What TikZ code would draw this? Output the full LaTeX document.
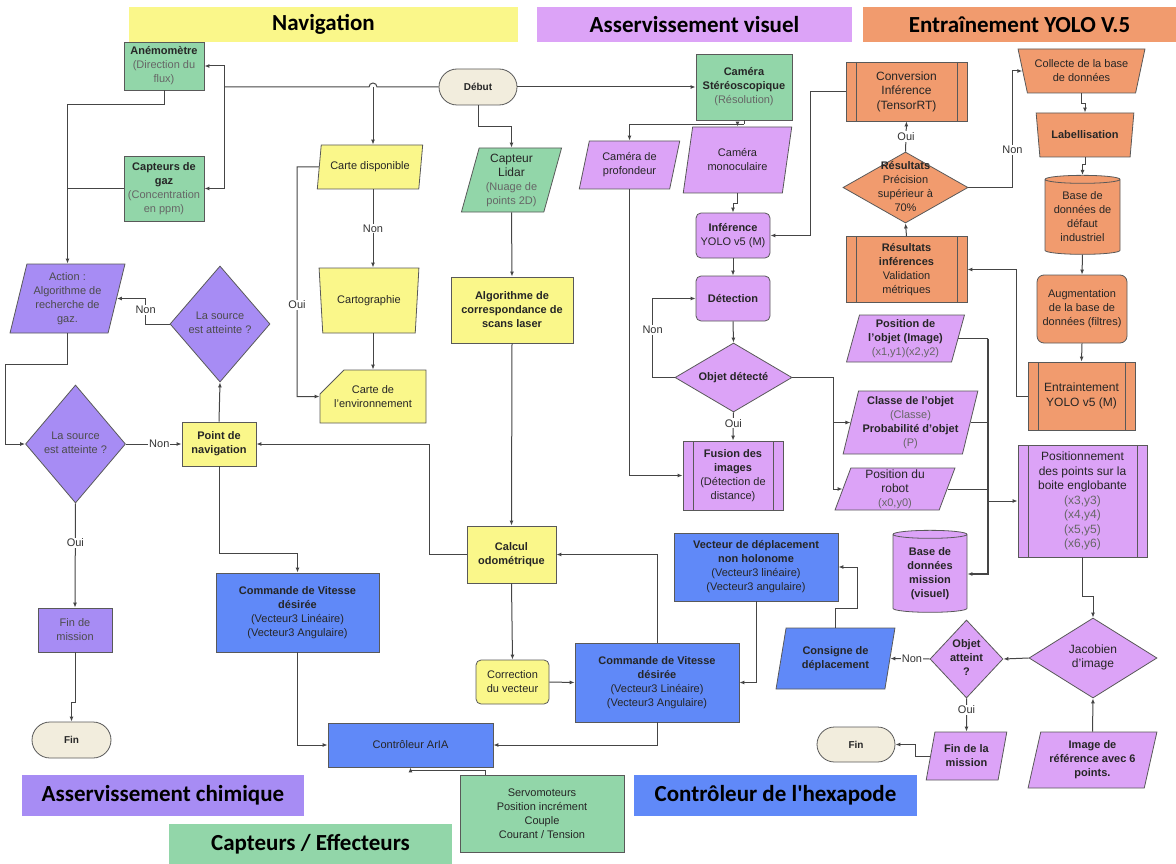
\documentclass[tikz,border=0pt]{standalone}
\usepackage{fontspec}
\setmainfont{Liberation Sans}
\newfontfamily\titrefont{Carlito}
\usetikzlibrary{shapes.geometric,shapes.misc,arrows.meta}
\definecolor{cjaune}{HTML}{FAF78A}
\definecolor{cvert}{HTML}{92D6A9}
\definecolor{cviolet}{HTML}{DCA3F7}
\definecolor{cchim}{HTML}{A78CF4}
\definecolor{corange}{HTML}{F19B6E}
\definecolor{cbleu}{HTML}{6089F8}
\definecolor{ccreme}{HTML}{F2EDDD}
\definecolor{cligne}{HTML}{454545}
\newcommand{\gris}[1]{{\color{black!60}#1}}
\newcommand{\lignes}[1]{\smash{\makebox[0pt]{\raisebox{-2.5pt}{\begin{tabular}{@{}c@{}}#1\end{tabular}}}}}
\tikzset{
  noeud/.style={draw=black!65, line width=0.8pt, align=center, inner sep=1pt,
    text=black!85, font=\fontsize{11}{14}\selectfont},
  grand/.style={font=\fontsize{12}{14.5}\selectfont},
  taille/.style 2 args={minimum width=#1pt, minimum height=#2pt},
  boite/.style={noeud, rectangle},
  arrondi/.style={noeud, rectangle, rounded corners=5pt},
  stade/.style={noeud, rounded rectangle, fill=ccreme, font=\fontsize{10}{12}\selectfont\bfseries},
  para/.style={noeud, trapezium, trapezium left angle=75, trapezium right angle=105,
    trapezium stretches=true},
  entonnoir/.style={noeud, trapezium, trapezium left angle=102, trapezium right angle=102,
    trapezium stretches=true},
  losange/.style={noeud, diamond, inner sep=0pt},
  cylindre/.style={noeud, cylinder, shape border rotate=90, aspect=4},
  fiche/.style={noeud, chamfered rectangle, chamfered rectangle corners=north west,
    chamfered rectangle xsep=12pt, chamfered rectangle ysep=12pt},
  process/.style={noeud, rectangle, path picture={
    \draw[black!65, line width=0.8pt]
      ([xshift=10pt]path picture bounding box.north west) -- ([xshift=10pt]path picture bounding box.south west)
      ([xshift=-10pt]path picture bounding box.north east) -- ([xshift=-10pt]path picture bounding box.south east);}},
  titre/.style={inner sep=0pt, font=\titrefont\fontsize{23}{25}\selectfont\bfseries},
  fleche/.style={draw=cligne, line width=1pt, -{Latex[length=5pt,width=4pt]}},
  lbl/.style={fill=white, inner sep=1pt, text=black!80, font=\fontsize{11}{13}\selectfont},
}
\begin{document}
\begin{tikzpicture}[x=1pt, y=-1pt]
  \useasboundingbox (0,0) rectangle (1176,864);
  \node[titre, fill=cjaune, taille={389}{35}] (tnav) at (323.5,24.5) {Navigation};
  \node[titre, fill=cviolet, taille={315}{35}] (tvis) at (694.5,24.5) {Asservissement visuel};
  \node[titre, fill=corange, taille={313}{35}] (tyolo) at (1019.5,24.5) {Entraînement YOLO V.5};
  \node[titre, fill=cchim, taille={282}{41}] (tchim) at (163,795.5) {Asservissement chimique};
  \node[titre, fill=cvert, taille={283}{40}] (tcapt) at (310.5,844) {Capteurs / Effecteurs};
  \node[titre, fill=cbleu, taille={283}{41}] (thexa) at (775.5,795.5) {Contrôleur de l'hexapode};

  \node[boite, fill=cvert, taille={80}{48}] (anemo) at (164,66) {\textbf{Anémomètre}\\\gris{(Direction du}\\\gris{flux)}};
  \node[boite, fill=cvert, taille={80}{65}] (gaz) at (164,188.5) {\textbf{Capteurs de}\\\textbf{gaz}\\\gris{(Concentration}\\\gris{en ppm)}};
  \node[stade, taille={80}{36}] (debut) at (478,87) {Début};
  \node[para, fill=cchim, taille={115}{69}, text=black!70] (action) at (67.5,298.5) {Action :\\Algorithme de\\recherche de\\gaz.};
  \node[losange, fill=cchim, taille={100}{116}, text=black!70] (src2) at (220,324) {\lignes{La source\\est atteinte ?}};
  \node[losange, fill=cchim, taille={100}{118}, text=black!70] (src1) at (75.5,444) {\lignes{La source\\est atteinte ?}};
  \node[boite, fill=cjaune, taille={74}{44}] (point) at (219,444) {\textbf{Point de}\\\textbf{navigation}};
  \node[boite, fill=cchim, taille={74}{44}, text=black!70] (finmis) at (75,630) {Fin de\\mission};
  \node[stade, taille={81}{36}] (fin1) at (71.5,740) {Fin};
  \node[para, fill=cjaune, taille={106}{44}] (carte) at (370,167) {Carte disponible};
  \node[entonnoir, fill=cjaune, taille={100}{65}] (carto) at (369,300.5) {Cartographie};
  \node[fiche, fill=cjaune, taille={106}{53}] (carteenv) at (373,396.5) {Carte de\\l'environnement};
  \node[para, fill=cvert, taille={101}{64}] (lidar) at (511.5,180) {{\large Capteur}\\{\large Lidar}\\\gris{(Nuage de}\\\gris{points 2D)}};
  \node[boite, fill=cjaune, taille={122}{66}] (algo) at (512,310) {\textbf{Algorithme de}\\\textbf{correspondance de}\\\textbf{scans laser}};
  \node[boite, fill=cjaune, taille={89}{57}] (calcul) at (511.5,554.5) {\textbf{Calcul}\\\textbf{odométrique}};
  \node[arrondi, fill=cjaune, taille={73}{44}] (correction) at (512.5,682) {Correction\\du vecteur};
  \node[boite, fill=cbleu, taille={163}{79}] (cmd1) at (297.5,612.5) {\textbf{Commande de Vitesse}\\\textbf{désirée}\\(Vecteur3 Linéaire)\\(Vecteur3 Angulaire)};
  \node[boite, fill=cbleu, taille={164}{79}] (cmd2) at (657,682.5) {\textbf{Commande de Vitesse}\\\textbf{désirée}\\(Vecteur3 Linéaire)\\(Vecteur3 Angulaire)};
  \node[boite, fill=cbleu, taille={165}{44}] (arla) at (410.5,745) {Contrôleur ArIA};
  \node[boite, fill=cvert, taille={164}{77}] (servo) at (542,813.5) {Servomoteurs\\Position incrément\\Couple\\Courant / Tension};

  \node[boite, fill=cvert, taille={96}{66}] (stereo) at (744,87) {\textbf{Caméra}\\\textbf{Stéréoscopique}\\\gris{(Résolution)}};
  \node[para, fill=cviolet, taille={101}{48}] (profondeur) at (629.5,165) {Caméra de\\profondeur};
  \node[para, fill=cviolet, taille={109}{66}] (mono) at (737.5,160) {Caméra\\monoculaire};
  \node[arrondi, fill=cviolet, taille={74}{45}] (inference) at (733,235.5) {\textbf{Inférence}\\YOLO v5 (M)};
  \node[arrondi, fill=cviolet, taille={74}{45}] (detection) at (733,298.5) {\textbf{Détection}};
  \node[losange, fill=cviolet, taille={117}{69}] (objdet) at (733.5,377.5) {\lignes{\textbf{Objet détecté}}};
  \node[process, fill=cviolet, taille={100}{69}] (fusion) at (733,475.5) {\textbf{Fusion des}\\\textbf{images}\\(Détection de\\distance)};
  \node[boite, fill=cbleu, taille={164}{68}] (vecteur) at (756,567) {\textbf{Vecteur de déplacement}\\\textbf{non holonome}\\(Vecteur3 linéaire)\\(Vecteur3 angulaire)};
  \node[para, fill=cbleu, taille={119}{61}] (consigne) at (835.5,658.5) {\textbf{Consigne de}\\\textbf{déplacement}};
  \node[losange, fill=cviolet, taille={73}{78}] (objatt) at (966.5,659) {\lignes{\textbf{Objet}\\\textbf{atteint}\\\textbf{?}}};
  \node[para, fill=cviolet, taille={81}{48}] (finmission) at (966.5,756) {\textbf{Fin de la}\\\textbf{mission}};
  \node[stade, taille={80}{35}] (fin2) at (856,744.5) {Fin};
  \node[losange, fill=cviolet, taille={128}{80}, grand] (jacobien) at (1093,658) {\lignes{Jacobien\\d'image}};
  \node[para, fill=cviolet, taille={129}{56}] (imageref) at (1092.5,760) {\textbf{Image de}\\\textbf{référence avec 6}\\\textbf{points.}};
  \node[para, fill=cviolet, taille={119}{47}] (posobj) at (905.5,338.5) {\textbf{Position de}\\\textbf{l'objet (Image)}\\\gris{(x1,y1)(x2,y2)}};
  \node[para, fill=cviolet, taille={135}{63}] (classe) at (910.5,422.5) {\textbf{Classe de l'objet}\\\gris{(Classe)}\\\textbf{Probabilité d'objet}\\\gris{(P)}};
  \node[para, fill=cviolet, taille={120}{42}] (posrob) at (895,489) {{\large Position du}\\{\large robot}\\\gris{(x0,y0)}};
  \node[cylindre, fill=cviolet, taille={74}{82}] (basemission) at (930,574) {\lignes{\textbf{Base de}\\\textbf{données}\\\textbf{mission}\\\textbf{(visuel)}}};
  \node[process, fill=cviolet, taille={129}{112}, grand] (positionnement) at (1082.5,501) {Positionnement\\des points sur la\\boite englobante\\\gris{(x3,y3)}\\\gris{(x4,y4)}\\\gris{(x5,y5)}\\\gris{(x6,y6)}};

  \node[process, fill=corange, taille={121}{59}, grand] (conversion) at (906.5,91.5) {Conversion\\Inférence\\(TensorRT)};
  \node[losange, fill=corange, taille={125}{71}] (resultats) at (905.5,187.5) {\lignes{\textbf{Résultats}\\Précision\\supérieur à\\70\%}};
  \node[process, fill=corange, taille={121}{66}] (resinf) at (906.5,269.5) {\textbf{Résultats}\\\textbf{inférences}\\Validation\\métriques};
  \node[entonnoir, fill=corange, taille={127}{44}, trapezium left angle=109, trapezium right angle=109] (collecte) at (1081.5,71) {Collecte de la base\\de données};
  \node[entonnoir, fill=corange, taille={98}{44}, trapezium left angle=106, trapezium right angle=106] (label) at (1085,135) {\textbf{Labellisation}};
  \node[cylindre, fill=corange, taille={75}{79}] (basedef) at (1082.5,217.5) {\lignes{Base de\\données de\\défaut\\industriel}};
  \node[arrondi, fill=corange, taille={90}{68}, rounded corners=7pt] (augment) at (1082,309) {Augmentation\\de la base de\\données (filtres)};
  \node[process, fill=corange, taille={107}{68}, grand] (entrain) at (1081.5,396) {Entraintement\\YOLO v5 (M)};

  \coordinate (j1) at (224,87);
  \coordinate (j2) at (373,87);
  \coordinate (bus) at (988,574);
  \begin{scope}[fleche]
    \draw[-] (debut.west) -- (377,87) arc[start angle=0, end angle=180, radius=4pt] -- (j1);
    \draw (j1) |- (anemo.east);
    \draw (j1) |- (gaz.east);
    \draw (j2) -- (j2 |- carte.north);
    \draw (debut.south) -- ++(0,21) -| (lidar.north);
    \draw (debut.east) -- (stereo.west);
    \draw (anemo.south) -- ++(0,14) -| (action.north);
    \draw[-] (gaz.west) -- (gaz.west -| action.north);
    \draw (action.south) |- (5,364) |- (src1.west);
    \draw (src1.east) -- node[lbl, pos=0.6]{Non} (point.west);
    \draw (point.north) -- (src2.south);
    \draw (src2.west) -- ++(-24,0) |- node[lbl, pos=0.27]{Non} (action.east);
    \draw (src1.south) -- node[lbl, pos=0.38]{Oui} (finmis.north);
    \draw (finmis.south) -- ++(0,50) -| (fin1.north);
    \draw (point.south) -- ++(0,87) -| (cmd1.north);
    \draw (cmd1.south) |- (arla.west);
    \draw (cmd2.south) |- (arla.east);
    \draw ([xshift=-57pt]servo.north) -- ++(0,-4) -| (arla.south);
    \draw (carte.south -| j2) -- node[lbl]{Non} (carto.north -| j2);
    \draw (carto.south -| j2) -- (carteenv.north -| j2);
    \draw (carte.west) -- (297,167) |- node[lbl, pos=0.3]{Oui} (carteenv.west);
    \draw (lidar.south) -- (algo.north);
    \draw (algo.south) -- (calcul.north);
    \draw (calcul.west) -- ++(-37,0) |- (point.east);
    \draw (calcul.south) -- (correction.north);
    \draw (correction.east) -- (cmd2.west);
    \draw (cmd2.north) |- (calcul.east);
    \draw (vecteur.south) |- (cmd2.east);
    \draw (consigne.north) -- ++(0,-19) -- ++(22,0) |- (vecteur.east);
    \draw (objatt.west) -- node[lbl, pos=0.45]{Non} (consigne.east);
    \draw (objatt.south) -- node[lbl, pos=0.35]{Oui} (finmission.north);
    \draw (finmission.west) -- ++(-15,0) |- (fin2.east);
    \draw (jacobien.west) -- (objatt.east);
    \draw (imageref.north) -- (jacobien.south);
    \draw (positionnement.south) -- ++(0,39) -| (jacobien.north);
    \draw[-] (stereo.south) -- ++(0,4) coordinate (j3);
    \draw (j3) -| (profondeur.north);
    \draw (j3) -| (mono.north);
    \draw (mono.south) -- ++(0,10) -| (inference.north);
    \draw (inference.south) -- (detection.north);
    \draw (detection.south) -- (objdet.north);
    \draw (objdet.west) -- ++(-22,0) |- node[lbl, pos=0.3]{Non} (detection.west);
    \draw (objdet.south) -- node[lbl, pos=0.38]{Oui} (fusion.north);
    \draw (profondeur.south) |- (fusion.west);
    \draw (objdet.east) -- ++(41,0) |- (classe.west);
    \draw (objdet.east) -- ++(41,0) |- (posrob.west);
    \draw[-] (posobj.east) -- (posobj.east -| bus);
    \draw[-] (classe.east) -- (classe.east -| bus);
    \draw[-] (posrob.east) -- (posrob.east -| bus);
    \draw[line width=2.5pt] (posobj.east -| bus) -- (bus) -- (basemission.east);
    \draw (positionnement.west -| bus) -- (positionnement.west);
    \draw (conversion.west) -- ++(-35,0) |- (inference.east);
    \draw (resultats.north) -- node[lbl]{Oui} (conversion.south);
    \draw (resinf.north) -- (resultats.south);
    \draw (resultats.east) -- ++(44,0) |- node[lbl, pos=0.16]{Non} (collecte.west);
    \draw (collecte.south) -- ++(0,10) -| (label.north);
    \draw (label.south) -- ++(0,7) -| (basedef.north);
    \draw (basedef.south) -- (augment.north);
    \draw (augment.south) -- (entrain.north);
    \draw (entrain.west) -- ++(-11,0) |- (resinf.east);
  \end{scope}
\end{tikzpicture}
\end{document}
